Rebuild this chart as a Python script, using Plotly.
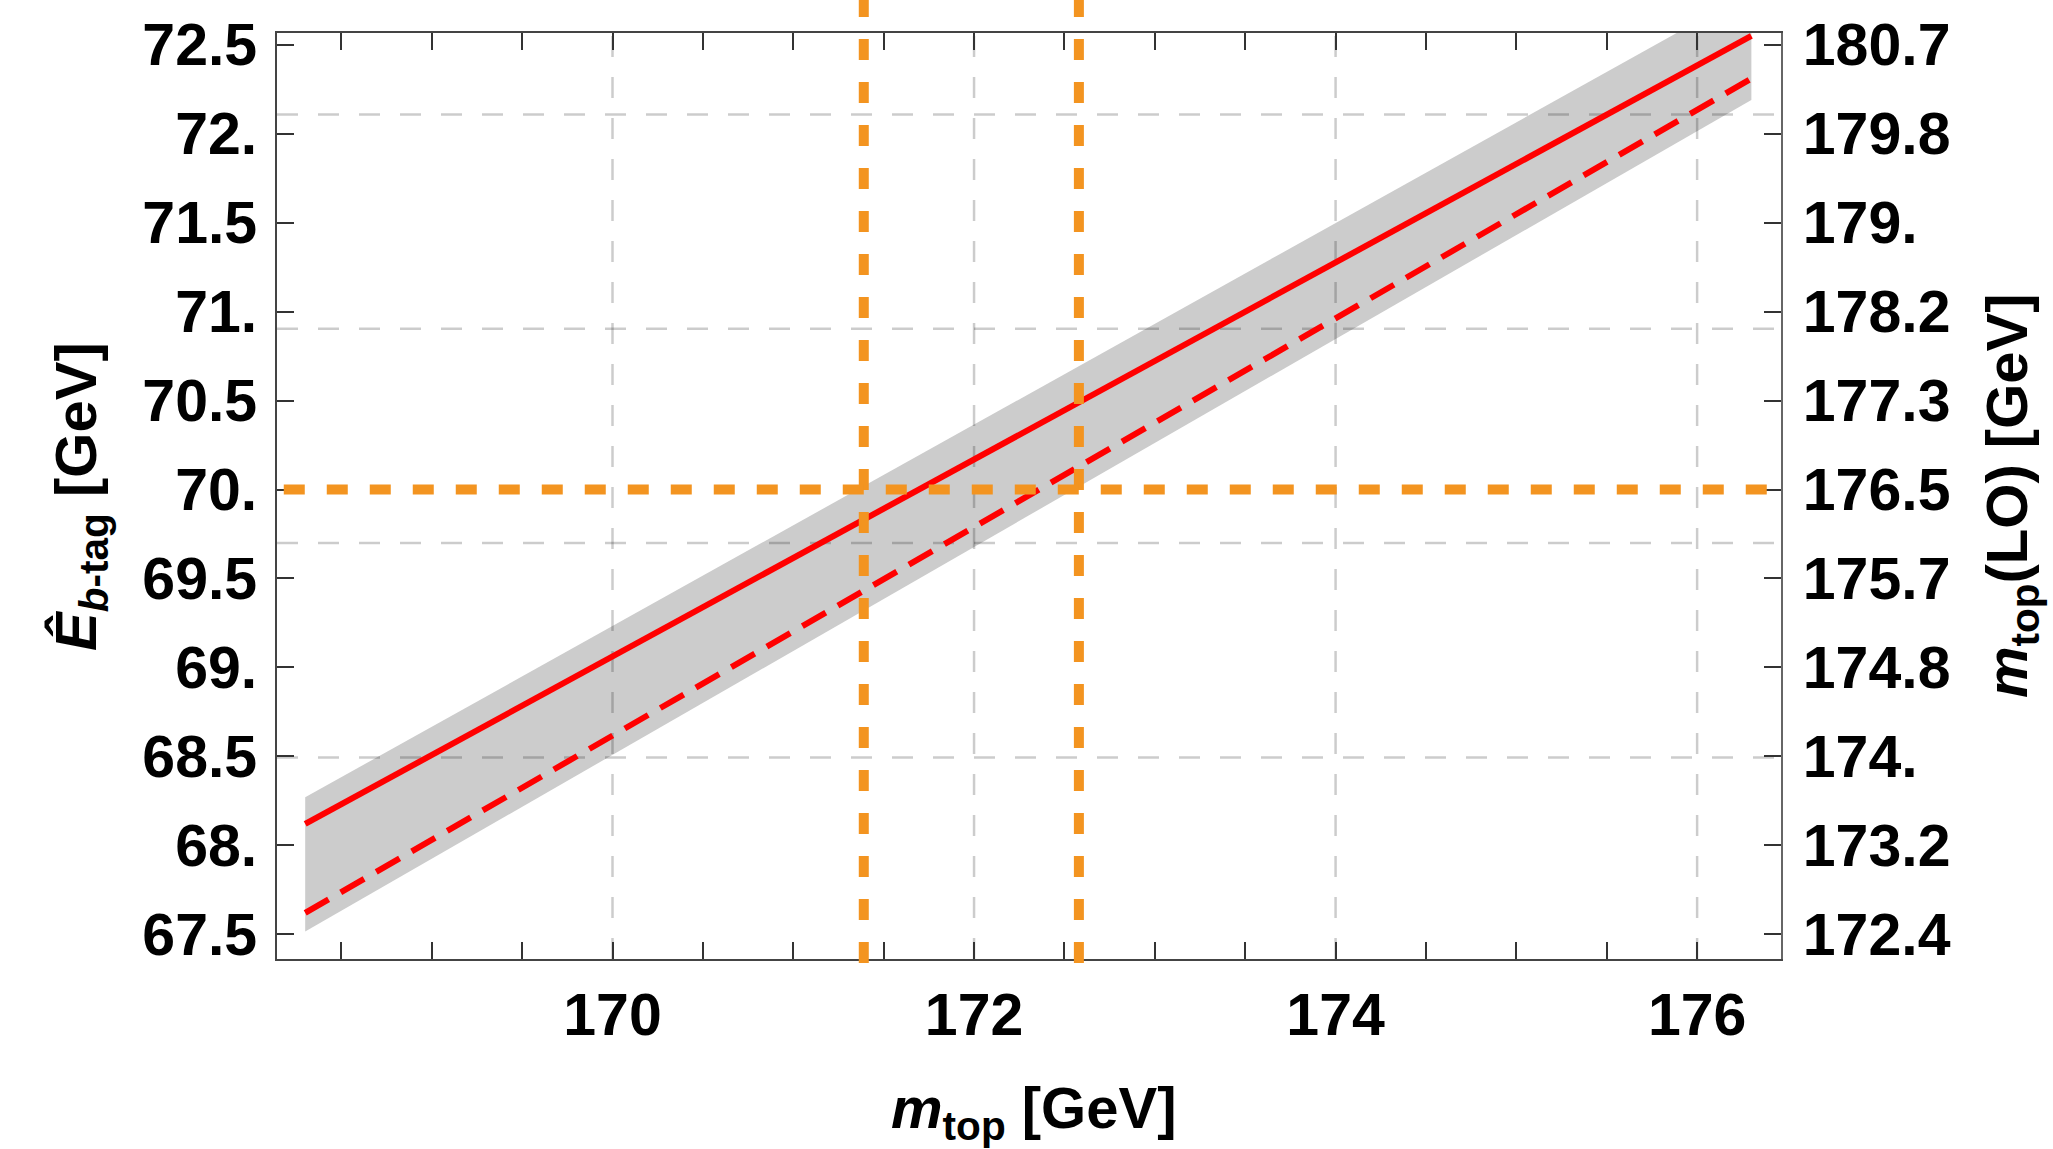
import plotly.graph_objects as go

# ---------------- data ----------------
m_top_ends = [168.3, 176.3]            # x extent of the curves / band
e_solid = [68.12, 72.55]               # solid red line (E_b-tag)
e_dashed = [67.62, 72.31]              # dashed red line
band_upper = [68.27, 72.80]            # grey band upper edge
band_lower = [67.515, 72.19]           # grey band lower edge

orange_vlines = [171.39, 172.58]       # vertical orange dashed lines (m_top)
orange_hline = 70.0                    # horizontal orange dashed line (E)

x_major = [170, 172, 174, 176]
left_tickvals = [67.5, 68.0, 68.5, 69.0, 69.5, 70.0, 70.5, 71.0, 71.5, 72.0, 72.5]
left_ticktext = ["67.5", "68.", "68.5", "69.", "69.5", "70.", "70.5", "71.", "71.5", "72.", "72.5"]
right_ticktext = ["172.4", "173.2", "174.", "174.8", "175.7", "176.5", "177.3", "178.2", "179.", "179.8", "180.7"]
right_grid_m = [174, 176, 178, 180]    # horizontal grid lines, in right-axis units

# axis scales
x_range = [168.144, 176.464]
y_range = [67.361, 72.566]
E_REF, M_REF, DM_DE = 70.0, 176.5, 1.66   # right axis: m = M_REF + DM_DE*(E - E_REF)


def e_to_m(e):
    return M_REF + DM_DE * (e - E_REF)


def m_to_e(m):
    return E_REF + (m - M_REF) / DM_DE


y2_range = [e_to_m(v) for v in y_range]
right_tickvals = [e_to_m(v) for v in left_tickvals]

RED = "#FF0000"
ORANGE = "#F39420"
GRID = "rgba(0,0,0,0.2)"
FONT = "Liberation Sans, Arial, sans-serif"

fig = go.Figure()

# grey band
fig.add_trace(go.Scatter(
    x=m_top_ends + m_top_ends[::-1],
    y=band_upper + band_lower[::-1],
    fill="toself", fillcolor="#CCCCCC", line=dict(width=0),
    mode="lines", hoverinfo="skip", showlegend=False))

# grid lines (drawn above the band, below the curves)
gx, gy = [], []
for v in x_major:
    gx += [v, v, None]
    gy += [y_range[0], y_range[1], None]
for m in right_grid_m:
    e = m_to_e(m)
    gx += [x_range[0], x_range[1], None]
    gy += [e, e, None]
fig.add_trace(go.Scatter(x=gx, y=gy, mode="lines",
                         line=dict(color=GRID, width=2.5, dash="21px,20px"),
                         hoverinfo="skip", showlegend=False))

# red curves
fig.add_trace(go.Scatter(x=m_top_ends, y=e_solid, mode="lines",
                         line=dict(color=RED, width=6), showlegend=False))
fig.add_trace(go.Scatter(x=m_top_ends, y=e_dashed, mode="lines",
                         line=dict(color=RED, width=6, dash="27px,14px"), showlegend=False))

# orange dashed lines
shapes = []
for xv in orange_vlines:
    shapes.append(dict(type="line", xref="x", yref="paper", x0=xv, x1=xv,
                       y0=1.040, y1=-0.0086, layer="above",
                       line=dict(color=ORANGE, width=10, dash="21px,22px")))
shapes.append(dict(type="line", xref="paper", yref="y", x0=0.0045, x1=1.0,
                   y0=orange_hline, y1=orange_hline, layer="above",
                   line=dict(color=ORANGE, width=10, dash="21px,22px")))

tickfont = dict(family=FONT, size=59, color="black", weight="bold")
titlefont = dict(family=FONT, size=58, color="black", weight="bold")

fig.update_layout(
    width=2053, height=1149,
    margin=dict(l=277, r=272, t=31, b=190),
    paper_bgcolor="white", plot_bgcolor="white",
    shapes=shapes,
    showlegend=False,
    xaxis=dict(
        range=x_range, tickvals=x_major, ticktext=[str(v) for v in x_major],
        showgrid=False, zeroline=False,
        showline=True, linecolor="#444", linewidth=2, mirror="allticks",
        ticks="inside", ticklen=17, tickwidth=2, tickcolor="#333",
        minor=dict(dtick=0.5, tick0=170, ticks="inside", ticklen=10, tickwidth=2, tickcolor="#333", showgrid=False),
        tickfont=tickfont, ticklabelstandoff=3,
    ),
    yaxis=dict(
        range=y_range, tickvals=left_tickvals, ticktext=left_ticktext,
        showgrid=False, zeroline=False,
        showline=True, linecolor="#444", linewidth=2,
        ticks="inside", ticklen=17, tickwidth=2, tickcolor="#333",
        tickfont=tickfont, ticklabelstandoff=6,
    ),
    yaxis2=dict(
        overlaying="y", side="right", anchor="x",
        range=y2_range, tickvals=right_tickvals, ticktext=right_ticktext,
        showgrid=False, zeroline=False,
        showline=True, linecolor="#666", linewidth=2,
        ticks="inside", ticklen=17, tickwidth=2, tickcolor="#333",
        tickfont=tickfont, ticklabelstandoff=8,
    ),
    annotations=[
        dict(text="<i>m</i><sub>top</sub> [GeV]", xref="paper", yref="paper",
             x=0.503, y=-0.165, xanchor="center", yanchor="middle",
             showarrow=False, font=titlefont),
        dict(text="<i>Ê</i><sub><i>b</i>-tag</sub> [GeV]", xref="paper", yref="paper",
             x=-0.131, y=0.5, xanchor="center", yanchor="middle", textangle=-90,
             showarrow=False, font=titlefont),
        dict(text="<i>m</i><sub>top</sub>(LO) [GeV]", xref="paper", yref="paper",
             x=1.153, y=0.5, xanchor="center", yanchor="middle", textangle=-90,
             showarrow=False, font=titlefont),
    ],
)

# invisible trace to activate the right axis
fig.add_trace(go.Scatter(x=[x_range[0]], y=[y2_range[0]], yaxis="y2", mode="markers",
                         marker=dict(opacity=0), hoverinfo="skip", showlegend=False))

fig.write_html("out.html")
